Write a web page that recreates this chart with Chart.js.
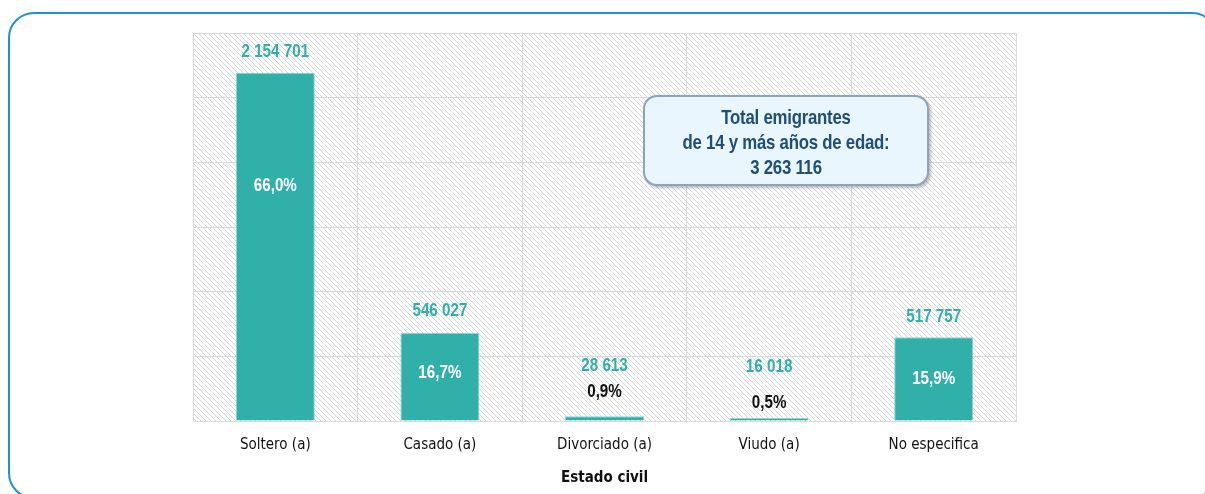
<!DOCTYPE html>
<html>
<head>
<meta charset="utf-8">
<script src="https://cdn.jsdelivr.net/npm/chart.js@4"></script>
<style>
  body { margin: 0; background: #fff; }
  #wrap { position: relative; width: 1205px; height: 494px; overflow: hidden; }
  #frame {
    position: absolute; left: 8px; top: 12px; width: 1210px; height: 487px;
    border: 2px solid #1e90dc; border-radius: 26px; box-sizing: border-box;
  }
  #chartBox { position: absolute; left: 0; top: 0; width: 1205px; height: 494px; }
  #note {
    position: absolute; left: 643px; top: 95px; width: 286px; height: 91px;
    box-sizing: border-box; border: 2px solid #8ea2bd; border-radius: 14px;
    background: #eaf6fd; box-shadow: 2px 2px 3px rgba(0,0,0,0.25);
    font-family: "Liberation Sans", Arial, sans-serif;
    font-weight: bold; font-size: 21px; line-height: 25px; color: #1f4e79;
    text-align: center; padding-top: 7px; overflow: hidden;
  }
  #note div { transform: scaleX(0.8); white-space: nowrap; letter-spacing: -0.3px; }
</style>
</head>
<body>
<div id="wrap">
  <div id="frame"></div>
  <div id="chartBox"><canvas id="chart"></canvas></div>
  <div id="note"><div>Total emigrantes</div><div>de 14 y más años de edad:</div><div id="total"></div></div>
</div>
<script>
// data
const categories = ['Soltero (a)', 'Casado (a)', 'Divorciado (a)', 'Viudo (a)', 'No especifica'];
const emigrants = [2154701, 546027, 28613, 16018, 517757];
const percents = [66.0, 16.7, 0.9, 0.5, 15.9];

// label placement (px relative to bar top), kept apart from the data
const valueOffsets = [-21, -22, -51, -51, -21];
const pctOffsets = [113, 40, -25, -15, 41];
const pctInside = [true, true, false, false, true];

const axisFont = '"DejaVu Sans Condensed", "Liberation Sans", sans-serif';
const teal = '#31b0aa';

const fmt = n => String(n).replace(/\B(?=(\d{3})+(?!\d))/g, ' ');
const fmtPct = p => p.toFixed(1).replace('.', ',') + '%';

document.getElementById('total').textContent = fmt(emigrants.reduce((a, b) => a + b, 0));

// hatched background tile
const makeHatch = () => {
    const c = document.createElement('canvas');
    c.width = 5; c.height = 5;
    const g = c.getContext('2d');
    g.fillStyle = '#ffffff';
    g.fillRect(0, 0, 5, 5);
    g.strokeStyle = '#d6d6d6';
    g.lineWidth = 1;
    g.beginPath();
    g.moveTo(-1, -1); g.lineTo(6, 6);
    g.moveTo(-1, 4); g.lineTo(1, 6);
    g.moveTo(4, -1); g.lineTo(6, 1);
    g.stroke();
    return c;
};

const hatchPlugin = {
    id: 'hatch',
    beforeDraw(chart) {
        const { ctx, chartArea: a } = chart;
        ctx.save();
        ctx.fillStyle = ctx.createPattern(makeHatch(), 'repeat');
        ctx.fillRect(a.left, a.top, a.right - a.left, a.bottom - a.top);
        ctx.restore();
    }
};

// narrow-looking text: Liberation Sans squeezed horizontally
const narrowText = (ctx, text, x, y) => {
    ctx.save();
    ctx.translate(x, y);
    ctx.scale(0.8, 1);
    ctx.fillText(text, 0, 0);
    ctx.restore();
};

const labelPlugin = {
    id: 'barLabels',
    afterDatasetsDraw(chart) {
        const { ctx } = chart;
        const meta = chart.getDatasetMeta(0);
        ctx.save();
        ctx.textAlign = 'center';
        ctx.textBaseline = 'middle';
        ctx.font = 'bold 19px "Liberation Sans", Arial, sans-serif';
        meta.data.forEach((bar, i) => {
            ctx.fillStyle = teal;
            narrowText(ctx, fmt(emigrants[i]), bar.x, bar.y + valueOffsets[i]);
            ctx.fillStyle = pctInside[i] ? '#ffffff' : '#111111';
            narrowText(ctx, fmtPct(percents[i]), bar.x, bar.y + pctOffsets[i]);
        });
        ctx.restore();
    }
};

new Chart(document.getElementById('chart'), {
    type: 'bar',
    data: {
        labels: categories,
        datasets: [{
            data: emigrants,
            backgroundColor: teal,
            borderColor: '#8fd6d1',
            borderWidth: 1,
            barPercentage: 0.48,
            categoryPercentage: 1,
            minBarLength: 3
        }]
    },
    options: {
        responsive: true,
        maintainAspectRatio: false,
        animation: false,
        layout: { padding: { left: 193, right: 189, top: 33, bottom: 7 } },
        scales: {
            x: {
                offset: true,
                grid: { color: '#d9d9d9', offset: true, drawTicks: false },
                border: { color: '#d9d9d9' },
                ticks: { color: '#111', font: { family: axisFont, size: 15 }, padding: 15 },
                title: {
                    display: true, text: 'Estado civil', color: '#111',
                    font: { family: axisFont, size: 15, weight: 'bold' }, padding: { top: 0, bottom: 0 }
                }
            },
            y: {
                min: 0, max: 2400000,
                ticks: { stepSize: 400000, display: false },
                grid: { color: '#d9d9d9', drawTicks: false },
                border: { display: true, color: '#d9d9d9' }
            }
        },
        plugins: { legend: { display: false }, tooltip: { enabled: false } }
    },
    plugins: [hatchPlugin, labelPlugin]
});
</script>
</body>
</html>
